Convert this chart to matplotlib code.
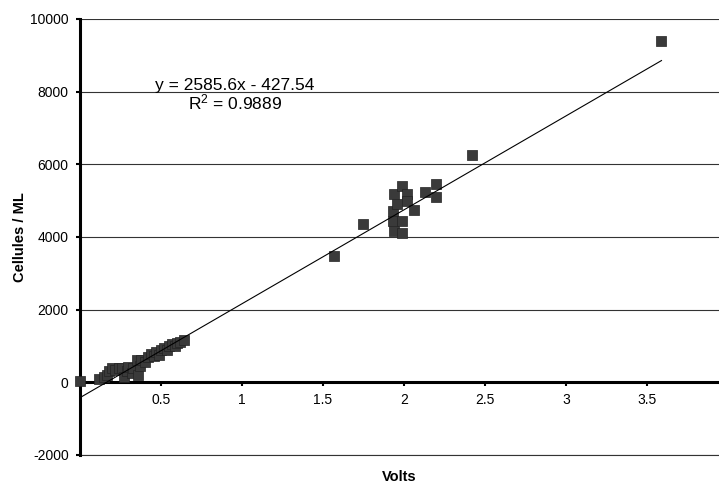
import matplotlib

matplotlib.use("Agg")
import matplotlib.pyplot as plt
import numpy as np

plt.rcParams["font.family"] = ["Liberation Sans", "DejaVu Sans"]
plt.rcParams["mathtext.default"] = "regular"
plt.rcParams["axes.unicode_minus"] = False

# Volts vs cells / mL
volts = [
    0.0, 0.12, 0.15, 0.17, 0.18, 0.20, 0.22, 0.24, 0.26, 0.27, 0.29, 0.30,
    0.32, 0.33, 0.35, 0.36, 0.37, 0.38, 0.40, 0.42, 0.44, 0.46, 0.47, 0.49,
    0.50, 0.52, 0.54, 0.55, 0.57, 0.59, 0.60, 0.62, 0.64,
    1.57, 1.75,
    1.93, 1.93, 1.94, 1.94, 1.96, 1.99, 1.99, 1.99, 2.02, 2.02, 2.06,
    2.13, 2.20, 2.20, 2.42, 3.59,
]
cells = [
    30, 80, 150, 200, 320, 380, 350, 400, 380, 150, 300, 420,
    250, 380, 600, 200, 450, 620, 550, 700, 780, 720, 820, 750,
    880, 950, 900, 1000, 1050, 1000, 1080, 1100, 1170,
    3480, 4360,
    4710, 4440, 5180, 4160, 4900, 5400, 4440, 4110, 5180, 4990, 4740,
    5250, 5470, 5100, 6250, 9400,
]
slope, intercept = 2585.6, -427.54
r2 = 0.9889

fig = plt.figure(figsize=(7.19, 4.86), dpi=100)
ax = fig.add_axes([0.111, 0.064, 0.889, 0.897])

ax.set_xlim(0, 3.945)
ax.set_ylim(-2000, 10000)
ax.set_yticks(np.arange(-2000, 10001, 2000))
ax.set_xticks([0.5, 1, 1.5, 2, 2.5, 3, 3.5])
ax.set_xticklabels(["0.5", "1", "1.5", "2", "2.5", "3", "3.5"])

ax.grid(axis="y", color="#333333", linewidth=0.8, zorder=0)
ax.axhline(-2000, color="#333333", linewidth=0.8, clip_on=False, zorder=0)
ax.set_axisbelow(True)

for s in ["top", "right"]:
    ax.spines[s].set_visible(False)
ax.spines["bottom"].set_position(("data", 0))
ax.spines["bottom"].set_linewidth(2.2)
ax.spines["left"].set_linewidth(2.2)
ax.tick_params(axis="both", direction="out", length=3, width=1.5, labelsize=10, pad=5)

ax.scatter(volts, cells, marker="s", s=55, color="#3a3a3a", edgecolors="#222222",
           linewidths=0.5, zorder=3, clip_on=False)

xfit = np.array([0, max(volts)])
ax.plot(xfit, slope * xfit + intercept, color="black", linewidth=0.8, zorder=4)

ax.text(0.957, 7900, f"y = {slope}x - {abs(intercept)}\nR$^2$ = {r2}",
        ha="center", va="center", multialignment="center", fontsize=12.5,
        linespacing=1.0)

ax.set_xlabel("Volts", fontsize=10.5, fontweight="bold")
ax.xaxis.set_label_coords(0.5, -0.035)
ax.set_ylabel("Cellules / ML", fontsize=10.5, fontweight="bold")
ax.yaxis.set_label_coords(-0.083, 0.5)

fig.savefig("out.png", dpi=100)
